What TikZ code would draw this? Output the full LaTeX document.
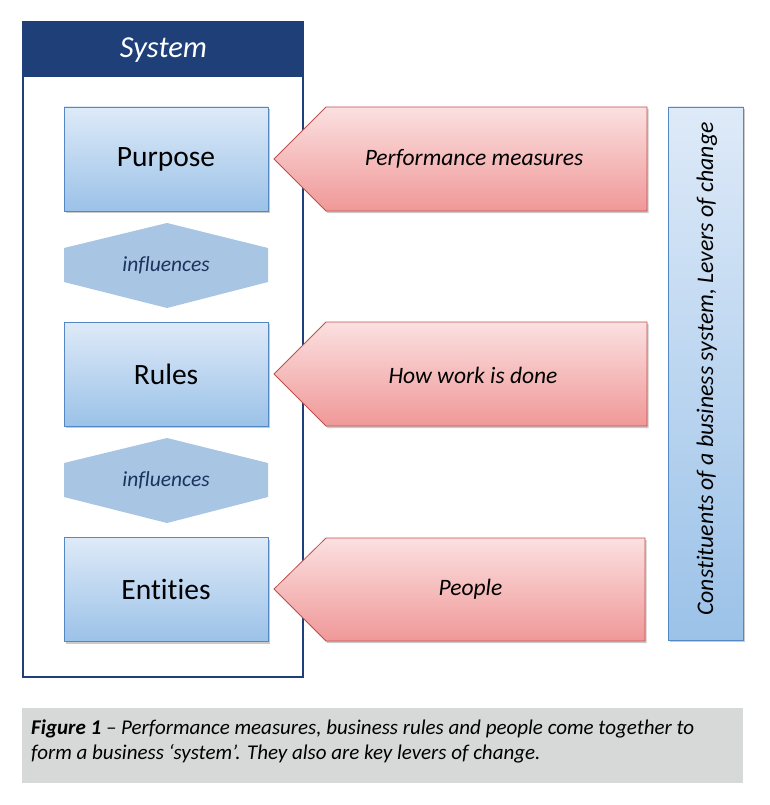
\documentclass[tikz,border=0pt]{standalone}
\usepackage{fontspec}
\setmainfont{Carlito}[Ligatures={TeX,NoCommon}]
\usetikzlibrary{shadows,calc}
\definecolor{navy}{RGB}{30,63,120}
\definecolor{btop}{RGB}{222,234,248}
\definecolor{bbot}{RGB}{155,194,232}
\definecolor{bline}{RGB}{84,136,196}
\definecolor{hexfill}{RGB}{168,197,227}
\definecolor{hextext}{RGB}{28,50,95}
\definecolor{ptop}{RGB}{251,224,224}
\definecolor{pbot}{RGB}{240,152,152}
\definecolor{pline}{RGB}{192,80,77}
\definecolor{capbg}{RGB}{215,217,217}
\tikzset{
  softshadow/.style={drop shadow={shadow xshift=1.5pt, shadow yshift=-2pt, opacity=0.35, fill=black!60}},
  compbox/.style={draw=bline, line width=0.8pt, top color=btop, bottom color=bbot,
    minimum width=204pt, minimum height=104pt, inner sep=0pt,
    font=\fontsize{29.5}{32}\selectfont, softshadow},
  hexlabel/.style={font=\itshape\fontsize{21.5}{24}\selectfont, text=hextext, inner sep=0pt},
  arrowlabel/.style={font=\itshape\fontsize{23.5}{26}\selectfont, inner sep=0pt},
  pentshape/.style={draw=pline, line width=0.8pt, top color=ptop, bottom color=pbot, softshadow},
  captext/.style={anchor=base west, inner sep=0pt, font=\itshape\fontsize{21}{25}\selectfont},
}
\begin{document}
\begin{tikzpicture}[x=1pt,y=-1pt]
\useasboundingbox (0,0) rectangle (770,805);
% System frame
\draw[navy, line width=2.2pt] (23,22) rectangle (303,677);
\fill[navy] (22,21) rectangle (304,77);
\node[text=white, font=\itshape\fontsize{30.5}{33}\selectfont] (sys) at (163.5,50) {System};
% component boxes
\node[compbox] (purpose) at (166,159) {Purpose};
\node[compbox] (rules) at (166,374) {Rules};
\node[compbox] (entities) at (166,589.5) {Entities};
% hexagons
\fill[hexfill] (64,248) -- (167,223) -- (268,248) -- (268,282) -- (167,308) -- (64,282) -- cycle;
\node[hexlabel] (inf1) at (166,265) {influences};
\fill[hexfill] (64,463) -- (167,438) -- (268,463) -- (268,497) -- (167,523) -- (64,497) -- cycle;
\node[hexlabel] (inf2) at (166,480) {influences};
% pentagon arrows
\path[pentshape] (274,159) -- (326,107) -- (647,107) -- (647,211) -- (326,211) -- cycle;
\node[arrowlabel] (pm) at (474,159) {Performance measures};
\path[pentshape] (274,374) -- (326,322) -- (647,322) -- (647,426) -- (326,426) -- cycle;
\node[arrowlabel] (hw) at (473,375) {How work is done};
\path[pentshape] (274,589) -- (326,538) -- (645,538) -- (645,641) -- (326,641) -- cycle;
\node[arrowlabel] (pp) at (470.5,589) {People};
% vertical box
\node[draw=bline, line width=0.8pt, top color=btop, bottom color=bbot,
  minimum width=75pt, minimum height=533pt, inner sep=0pt, softshadow] (lev) at (706,373.5) {};
\node[rotate=90, font=\itshape\fontsize{23.8}{26}\selectfont] (levtext) at (707,369) {Constituents of a business system, Levers of change};
% caption
\fill[capbg] (22,708) rectangle (743,783);
\node[captext] (cap1) at (31,734) {\textbf{Figure 1} – Performance measures, business rules and people come together to};
\node[captext] (cap2) at (31,759) {form a business ‘system’. They also are key levers of change.};
\end{tikzpicture}
\end{document}
